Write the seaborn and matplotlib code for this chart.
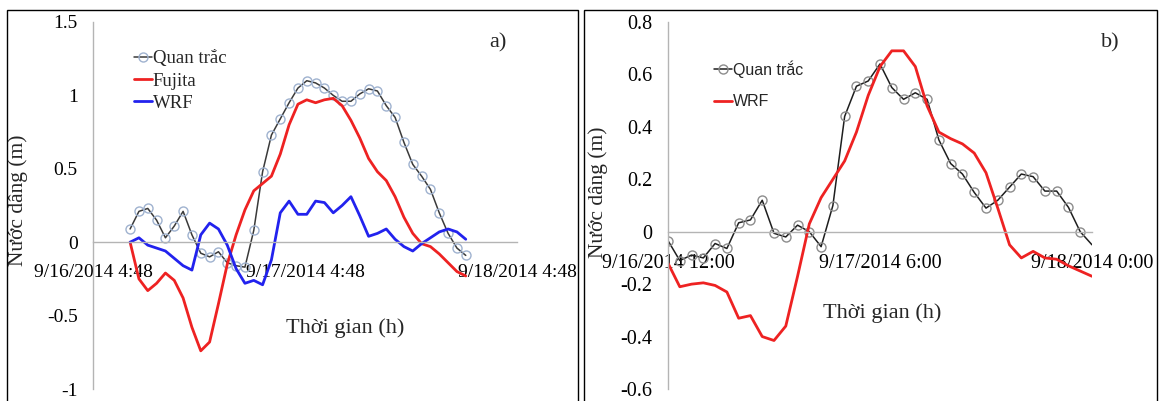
import matplotlib
matplotlib.use("Agg")
import matplotlib.pyplot as plt
from matplotlib.patches import Rectangle
from matplotlib.ticker import FuncFormatter
import pandas as pd
import seaborn as sns

# ---- panel a) hourly values, 9/16/2014 9:00 -> 9/17/2014 23:00
a_start = "2014-09-16 09:00"
a_obs = [0.09, 0.21, 0.23, 0.15, 0.03, 0.11, 0.21, 0.05, -0.075, -0.10,
         -0.065, -0.14, -0.16, -0.17, 0.08, 0.48, 0.73, 0.84, 0.95, 1.05,
         1.10, 1.085, 1.05, 1.00, 0.96, 0.96, 1.01, 1.045, 1.03, 0.93,
         0.85, 0.68, 0.53, 0.45, 0.36, 0.20, 0.06, -0.04, -0.09]
a_fujita = [0.00, -0.25, -0.33, -0.28, -0.21, -0.26, -0.38, -0.58, -0.74, -0.68,
            -0.42, -0.15, 0.05, 0.22, 0.35, 0.40, 0.45, 0.60, 0.80, 0.94,
            0.97, 0.95, 0.97, 0.98, 0.93, 0.83, 0.71, 0.57, 0.48, 0.42,
            0.31, 0.17, 0.06, -0.01, -0.03, -0.08, -0.14, -0.20, -0.23]
a_wrf = [0.00, 0.03, -0.02, -0.04, -0.06, -0.11, -0.16, -0.19, 0.05, 0.13,
         0.09, -0.02, -0.18, -0.28, -0.26, -0.29, -0.12, 0.20, 0.28, 0.19,
         0.19, 0.28, 0.27, 0.20, 0.25, 0.31, 0.18, 0.04, 0.06, 0.09,
         0.02, -0.03, -0.06, -0.01, 0.03, 0.07, 0.09, 0.07, 0.02]
a_ticks = ["2014-09-16 04:48", "2014-09-17 04:48", "2014-09-18 04:48"]
a_ticklabels = ["9/16/2014 4:48", "9/17/2014 4:48", "9/18/2014 4:48"]
a_yticks = [-1, -0.5, 0, 0.5, 1, 1.5]

# ---- panel b) hourly values, 9/16/2014 12:00 -> 9/18/2014 0:00
b_start = "2014-09-16 12:00"
b_obs = [-0.034, -0.11, -0.089, -0.10, -0.045, -0.064, 0.034, 0.045, 0.12, -0.006,
         -0.02, 0.025, 0.0, -0.057, 0.10, 0.44, 0.555, 0.575, 0.64, 0.55,
         0.505, 0.53, 0.505, 0.35, 0.26, 0.22, 0.15, 0.09, 0.12, 0.17,
         0.22, 0.21, 0.155, 0.155, 0.093, 0.0, -0.05]
b_wrf = [-0.12, -0.21, -0.20, -0.195, -0.205, -0.23, -0.33, -0.32, -0.40, -0.415,
         -0.36, -0.17, 0.03, 0.13, 0.20, 0.27, 0.38, 0.52, 0.63, 0.69,
         0.69, 0.63, 0.48, 0.38, 0.355, 0.335, 0.30, 0.225, 0.09, -0.05,
         -0.10, -0.075, -0.10, -0.105, -0.13, -0.15, -0.17]
b_ticks = ["2014-09-16 12:00", "2014-09-17 06:00", "2014-09-18 00:00"]
b_ticklabels = ["9/16/2014 12:00", "9/17/2014 6:00", "9/18/2014 0:00"]
b_yticks = [-0.6, -0.4, -0.2, 0, 0.2, 0.4, 0.6, 0.8]

df_a = pd.DataFrame({"time": pd.date_range(a_start, periods=len(a_obs), freq="h"),
                     "obs": a_obs, "fujita": a_fujita, "wrf": a_wrf})
df_b = pd.DataFrame({"time": pd.date_range(b_start, periods=len(b_obs), freq="h"),
                     "obs": b_obs, "wrf": b_wrf})

sns.set_style("white")
serif = ["Liberation Serif", "DejaVu Serif"]
sans = ["Liberation Sans", "DejaVu Sans"]
plt.rcParams["font.family"] = serif
plt.rcParams["axes.unicode_minus"] = False

W, H = 1160, 401
fig = plt.figure(figsize=(W / 100, H / 100), dpi=100)
ax_a = fig.add_axes([93 / W, 1 - 389 / H, 424 / W, 367 / H])
ax_b = fig.add_axes([668 / W, 1 - 389 / H, 424 / W, 367 / H])

# panel frames
for x0, x1 in [(7, 578), (584, 1157)]:
    fig.add_artist(Rectangle((x0 / W, -0.02), (x1 - x0) / W, 1.02 - 10 / H,
                             transform=fig.transFigure, fill=False,
                             edgecolor="black", lw=1.0))

# panel a
sns.lineplot(data=df_a, x="time", y="obs", ax=ax_a, color="#3a3a3a", lw=1.1,
             marker="o", markersize=6.5, markerfacecolor="none",
             markeredgecolor="#9fb2cf", markeredgewidth=1.0, label="Quan trắc")
sns.lineplot(data=df_a, x="time", y="fujita", ax=ax_a, color="#ee2222", lw=2.0,
             label="Fujita")
sns.lineplot(data=df_a, x="time", y="wrf", ax=ax_a, color="#2222ee", lw=2.0,
             label="WRF")

# panel b
sns.lineplot(data=df_b, x="time", y="obs", ax=ax_b, color="#1e1e1e", lw=1.1,
             marker="o", markersize=6.5, markerfacecolor="none",
             markeredgecolor="#8c8c8c", markeredgewidth=1.0,
             markevery=list(range(len(b_obs) - 1)), label="Quan trắc")
sns.lineplot(data=df_b, x="time", y="wrf", ax=ax_b, color="#ee2222", lw=2.0,
             label="WRF")

fmt = FuncFormatter(lambda v, p: "%g" % round(v, 2))
for ax, ticks, labels, yticks, fs in [(ax_a, a_ticks, a_ticklabels, a_yticks, 14),
                                      (ax_b, b_ticks, b_ticklabels, b_yticks, 14.5)]:
    t = pd.to_datetime(ticks)
    ax.set_xlim(t[0], t[-1])
    ax.set_xticks(t)
    ax.set_xticklabels(labels)
    ax.set_ylim(yticks[0], yticks[-1])
    ax.set_yticks(yticks)
    ax.yaxis.set_major_formatter(fmt)
    ax.spines["bottom"].set_position(("data", 0))
    ax.spines["top"].set_visible(False)
    ax.spines["right"].set_visible(False)
    for s in ("left", "bottom"):
        ax.spines[s].set_color("#b4b4b4")
        ax.spines[s].set_linewidth(1.0)
    ax.tick_params(axis="both", which="major", direction="out", length=5,
                   width=1.0, color="#b4b4b4", labelsize=fs, labelcolor="black")
    ax.tick_params(axis="x", pad=11)
    ax.tick_params(axis="y", pad=6)
    ax.patch.set_alpha(0)
    ax.set_ylabel("Nước dâng (m)", fontsize=15.5)
    ax.set_xlabel("Thời gian (h)", fontsize=16)
    ax.xaxis.label.set_va("center")
    ax.yaxis.label.set_va("center")

ax_a.xaxis.set_label_coords(0.594, 0.166)
ax_a.yaxis.set_label_coords(-0.177, 0.515)
ax_b.xaxis.set_label_coords(0.505, 0.207)
ax_b.yaxis.set_label_coords(-0.165, 0.537)

ax_a.text(0.955, 0.943, "a)", transform=ax_a.transAxes, fontsize=16,
          ha="center", va="center")
ax_b.text(1.042, 0.943, "b)", transform=ax_b.transAxes, fontsize=16,
          ha="center", va="center")

ax_a.legend(loc="upper left", bbox_to_anchor=(134 / W, 1 - 50 / H),
            bbox_transform=fig.transFigure, frameon=False, fontsize=13.5,
            handlelength=0.95, handletextpad=0.05, labelspacing=0.28,
            borderpad=0, borderaxespad=0)
ax_b.legend(loc="upper left", bbox_to_anchor=(714 / W, 1 - 60 / H),
            bbox_transform=fig.transFigure, frameon=False,
            prop={"family": sans, "size": 11.5},
            handlelength=1.15, handletextpad=0.05, labelspacing=1.05,
            borderpad=0, borderaxespad=0)

fig.savefig("out.png", dpi=100, facecolor="white")
